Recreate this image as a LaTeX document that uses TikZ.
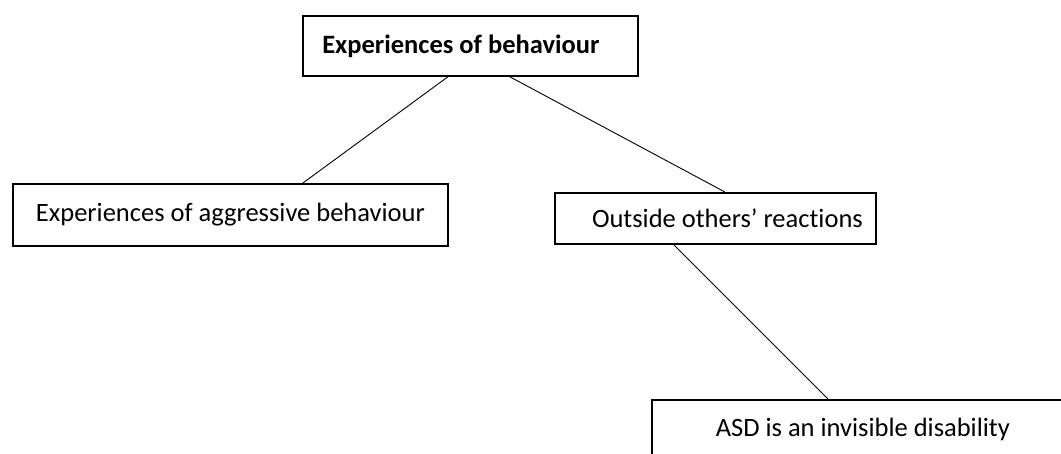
\documentclass[tikz,border=0pt]{standalone}
\usepackage{fontspec}
\setmainfont[Ligatures=NoCommon]{Carlito}
\usepackage{tikz}
\usetikzlibrary{positioning}

\begin{document}
\begin{tikzpicture}[
  x=1pt,y=-1pt,
  box/.style={draw=black,line width=1.8pt,inner sep=0pt,anchor=north west,
              align=center,font=\fontsize{26.5}{31}\selectfont},
  link/.style={draw=black,line width=0.9pt}]
  \useasboundingbox (0,0) rectangle (1061,453);
  \clip (0,0) rectangle (1061,453);
  \node[box,minimum width=335,minimum height=60,font=\fontsize{26.5}{31}\selectfont\bfseries]
       (behav) at (302,15) {Experiences of behaviour\hspace*{19pt}};
  \node[box,minimum width=435,minimum height=62] (aggr) at (12,183)
       {Experiences of aggressive behaviour};
  \node[box,minimum width=321,minimum height=51] (others) at (554,192)
       {\hspace*{24pt}Outside others’ reactions};
  \node[box,minimum width=422,minimum height=60] (asd) at (651,399)
       {ASD is an invisible disability};
  \draw[link] ([xshift=-22.5]behav.south) -- ([xshift=72.5]aggr.north);
  \draw[link] ([xshift=39.5]behav.south) -- ([xshift=9.5]others.north);
  \draw[link] ([xshift=-41.5]others.south) -- ([xshift=-35]asd.north);
\end{tikzpicture}
\end{document}
